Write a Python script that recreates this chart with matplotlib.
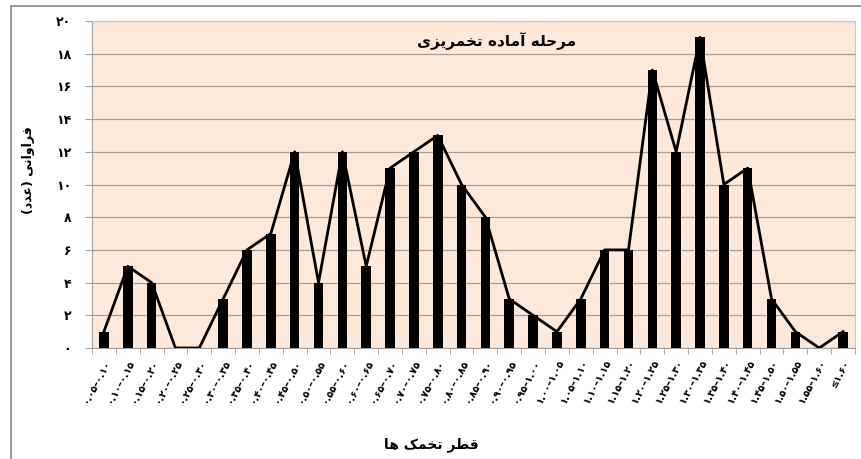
import matplotlib
matplotlib.use("Agg")
import matplotlib.pyplot as plt
from matplotlib.patches import Rectangle

# داده ها - فراوانی قطر تخمک ها
labels = ['۰.۰۵–۰.۱۰', '۰.۱۰–۰.۱۵', '۰.۱۵–۰.۲۰', '۰.۲۰–۰.۲۵', '۰.۲۵–۰.۳۰',
          '۰.۳۰–۰.۳۵', '۰.۳۵–۰.۴۰', '۰.۴۰–۰.۴۵', '۰.۴۵–۰.۵۰', '۰.۵۰–۰.۵۵',
          '۰.۵۵–۰.۶۰', '۰.۶۰–۰.۶۵', '۰.۶۵–۰.۷۰', '۰.۷۰–۰.۷۵', '۰.۷۵–۰.۸۰',
          '۰.۸۰–۰.۸۵', '۰.۸۵–۰.۹۰', '۰.۹۰–۰.۹۵', '۰.۹۵–۱.۰۰', '۱.۰۰–۱.۰۵',
          '۱.۰۵–۱.۱۰', '۱.۱۰–۱.۱۵', '۱.۱۵–۱.۲۰', '۱.۲۰–۱.۲۵', '۱.۲۵–۱.۳۰',
          '۱.۳۰–۱.۳۵', '۱.۳۵–۱.۴۰', '۱.۴۰–۱.۴۵', '۱.۴۵–۱.۵۰', '۱.۵۰–۱.۵۵',
          '۱.۵۵–۱.۶۰', '≤۱.۶۰']
freq = [1, 5, 4, 0, 0, 3, 6, 7, 12, 4, 12, 5, 11, 12, 13, 10, 8, 3, 2, 1,
        3, 6, 6, 17, 12, 19, 10, 11, 3, 1, 0, 1]
yticks = [0, 2, 4, 6, 8, 10, 12, 14, 16, 18, 20]

title = 'مرحله آماده تخمریزی'
ylabel = 'فراوانی (عدد)'
xlabel = 'قطر تخمک ها'

# matplotlib حروف عربی را به هم نمی چسباند، پس شکل های نمایشی را دستی می سازیم
forms = {
    'ا': ('\uFE8D', '\uFE8E', None, None),
    'آ': ('\uFE81', '\uFE82', None, None),
    'د': ('\uFEA9', '\uFEAA', None, None),
    'ر': ('\uFEAD', '\uFEAE', None, None),
    'ز': ('\uFEAF', '\uFEB0', None, None),
    'و': ('\uFEED', '\uFEEE', None, None),
    'ت': ('\uFE95', '\uFE96', '\uFE97', '\uFE98'),
    'ح': ('\uFEA1', '\uFEA2', '\uFEA3', '\uFEA4'),
    'خ': ('\uFEA5', '\uFEA6', '\uFEA7', '\uFEA8'),
    'ط': ('\uFEC1', '\uFEC2', '\uFEC3', '\uFEC4'),
    'ع': ('\uFEC9', '\uFECA', '\uFECB', '\uFECC'),
    'ف': ('\uFED1', '\uFED2', '\uFED3', '\uFED4'),
    'ق': ('\uFED5', '\uFED6', '\uFED7', '\uFED8'),
    'ل': ('\uFEDD', '\uFEDE', '\uFEDF', '\uFEE0'),
    'م': ('\uFEE1', '\uFEE2', '\uFEE3', '\uFEE4'),
    'ن': ('\uFEE5', '\uFEE6', '\uFEE7', '\uFEE8'),
    'ه': ('\uFEE9', '\uFEEA', '\uFEEB', '\uFEEC'),
    'ی': ('\uFBFC', '\uFBFD', '\uFBFE', '\uFBFF'),
    'ک': ('\uFB8E', '\uFB8F', '\uFB90', '\uFB91'),
}


def fa(s):
    out = []
    for i, c in enumerate(s):
        if c not in forms:
            out.append(c)
            continue
        prev = s[i - 1] if i > 0 else ''
        nxt = s[i + 1] if i + 1 < len(s) else ''
        join_prev = prev in forms and forms[prev][2] is not None
        join_next = nxt in forms and forms[c][2] is not None
        iso, fin, ini, med = forms[c]
        if join_prev and join_next:
            out.append(med)
        elif join_prev:
            out.append(fin)
        elif join_next:
            out.append(ini)
        else:
            out.append(iso)
    res = ''.join(out)[::-1]
    return res.translate(str.maketrans('()', ')('))


fig = plt.figure(figsize=(8.62, 4.59), dpi=100)
ax = fig.add_axes([92 / 862, 1 - 348 / 459, 763 / 862, 327 / 459])

x = list(range(len(freq)))
ax.set_facecolor('#FDE9D9')
ax.bar(x, freq, width=0.4, color='black', zorder=3)
ax.plot(x, freq, color='black', lw=2, zorder=4)

ax.set_xlim(-0.5, len(freq) - 0.5)
ax.set_ylim(0, 20)
ax.set_yticks(yticks)
ax.set_yticklabels([str(v).translate(str.maketrans('0123456789', '۰۱۲۳۴۵۶۷۸۹')) for v in yticks],
                   fontsize=9, fontweight='bold')
ax.yaxis.grid(True, color='#A0A0A0', lw=0.9, zorder=0)
ax.set_axisbelow(True)

ax.set_xticks(x)
ax.set_xticklabels(labels, rotation=62, ha='right', va='top', rotation_mode='anchor',
                   fontsize=7, fontweight='bold')
ax.set_xticks([i - 0.5 for i in range(len(freq) + 1)], minor=True)
ax.tick_params(axis='x', which='major', length=0, pad=7)
ax.tick_params(axis='x', which='minor', length=4, color='#A0A0A0')
ax.tick_params(axis='y', length=5, color='#A0A0A0', pad=10)

for side in ['left', 'bottom']:
    ax.spines[side].set_color('#A0A0A0')
for side in ['top', 'right']:
    ax.spines[side].set_color('#C8C8C8')

ax.text(0.53, 0.94, fa(title), transform=ax.transAxes, ha='center', va='center',
        fontsize=11, fontweight='bold')
fig.text(29 / 862, 1 - 170 / 459, fa(ylabel), rotation=90, ha='center', va='center',
         fontsize=9, fontweight='bold')
fig.text(431 / 862, 1 - 445 / 459, fa(xlabel), ha='center', va='center',
         fontsize=10, fontweight='bold')

# قاب بیرونی نمودار
fig.patches.append(Rectangle((11 / 862, -0.05), 1.0, 1 - 6 / 459 + 0.05,
                             transform=fig.transFigure, fill=False,
                             edgecolor='#868686', lw=1.2))

fig.savefig('out.png', dpi=100)
